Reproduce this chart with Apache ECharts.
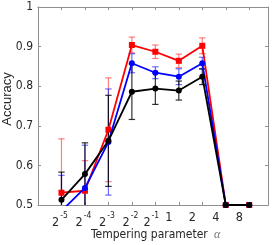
<!DOCTYPE html>
<html>
<head>
<meta charset="utf-8">
<script src="https://cdn.jsdelivr.net/npm/echarts@6/dist/echarts.min.js"></script>
<style>
html,body{margin:0;padding:0;background:#fff;}
#c{width:273px;height:245px;}
</style>
</head>
<body>
<div id="c"></div>
<script>
// tick labels for x positions 0..8 : base and exponent
const xBase = ['2','2','2','2','2','1','2','4','8'];
const xExp  = ['-5','-4','-3','-2','-1','','','',''];
const yTickLabels = ['0.5','0.6','0.7','0.8','0.9','1'];

// series means and error half-widths
const redMean   = [0.531, 0.536, 0.690, 0.904, 0.887, 0.864, 0.902, 0.5, 0.5];
const redErr    = [0.136, 0.076, 0.131, 0.020, 0.017, 0.017, 0.020, 0, 0];
const blueMean  = [0.485, 0.543, 0.659, 0.858, 0.834, 0.824, 0.858, 0.5, 0.5];
const blueErr   = [0.090, 0.108, 0.134, 0.024, 0.015, 0.020, 0.015, 0, 0];
const blackMean = [0.513, 0.578, 0.662, 0.786, 0.794, 0.789, 0.824, 0.5, 0.5];
const blackErr  = [0.070, 0.079, 0.115, 0.070, 0.040, 0.024, 0.020, 0, 0];

const Y_MIN = 0.5, Y_MAX = 1;
const NARROW = "'Liberation Sans Narrow','DejaVu Sans Condensed','Liberation Sans',sans-serif";

function lineData(m){ return m.map((v,i)=>[i,v]); }
function errData(m,e){ return m.map((v,i)=>[i, v-e[i], v+e[i]]).filter((d,i)=>e[i]>0); }

function errRender(color){
  return function(params, api){
    const x = api.value(0), lo = api.value(1), hi = api.value(2);
    const l = Math.max(lo, Y_MIN), h = Math.min(hi, Y_MAX);
    const pL = api.coord([x, l]), pH = api.coord([x, h]);
    const st = {stroke: color, lineWidth: 1.2};
    const ch = [{type:'line', shape:{x1:pL[0],y1:pL[1],x2:pH[0],y2:pH[1]}, style:st}];
    const hw = 3.2;
    if (hi <= Y_MAX) ch.push({type:'line', shape:{x1:pH[0]-hw,y1:pH[1],x2:pH[0]+hw,y2:pH[1]}, style:st});
    if (lo >= Y_MIN) ch.push({type:'line', shape:{x1:pL[0]-hw,y1:pL[1],x2:pL[0]+hw,y2:pL[1]}, style:st});
    return {type:'group', children: ch};
  };
}

const axisColor = '#8f8f8f';
const labelColor = '#262626';

const chart = echarts.init(document.getElementById('c'), null, {renderer:'canvas'});
chart.setOption({
  animation: false,
  grid: {left: 38, top: 7, right: 5, bottom: 40, containLabel: false},
  xAxis: [{
    type: 'value', min: -1, max: 8.8, interval: 1, position: 'bottom',
    axisLine: {onZero: false, lineStyle: {color: axisColor, width: 1}},
    axisTick: {inside: true, length: 3, lineStyle: {color: axisColor}},
    splitLine: {show: false},
    axisLabel: {
      margin: 6, color: labelColor, fontFamily: NARROW,
      formatter: function(v){
        const i = Math.round(v);
        if (Math.abs(v - i) > 1e-6 || i < 0 || i > 8) return '';
        if (xExp[i]) return '{b|' + xBase[i] + '}{' + (i === 4 ? 's4' : 's') + '|' + xExp[i] + '}';
        return '{p|' + xBase[i] + '}';
      },
      rich: {
        b: {fontSize: 12.5, lineHeight: 18, fontFamily: NARROW, color: labelColor, verticalAlign: 'bottom'},
        s: {fontSize: 8.5, lineHeight: 10, fontFamily: NARROW, color: labelColor, verticalAlign: 'top', padding: [0, 3, 0, 1]},
        s4: {fontSize: 8.5, lineHeight: 10, fontFamily: NARROW, color: labelColor, verticalAlign: 'top', padding: [0, 8, 0, 1]},
        p: {fontSize: 12.5, lineHeight: 12, fontFamily: NARROW, color: labelColor, verticalAlign: 'top', padding: [0, 20, 0, 0]}
      }
    }
  }, {
    type: 'value', min: -1, max: 8.8, interval: 1, position: 'top',
    axisLine: {onZero: false, lineStyle: {color: axisColor, width: 1}},
    axisTick: {inside: true, length: 3, lineStyle: {color: axisColor}},
    axisLabel: {show: false}, splitLine: {show: false}
  }],
  yAxis: [{
    type: 'value', min: Y_MIN, max: Y_MAX, interval: 0.1, position: 'left',
    axisLine: {show: true, onZero: false, lineStyle: {color: axisColor, width: 1}},
    axisTick: {show: true, inside: true, length: 3, lineStyle: {color: axisColor}},
    splitLine: {show: false},
    axisLabel: {
      margin: 5, color: labelColor, fontSize: 12, fontFamily: NARROW,
      formatter: function(v){ return yTickLabels[Math.round((v - Y_MIN) / 0.1)] || ''; }
    }
  }, {
    type: 'value', min: Y_MIN, max: Y_MAX, interval: 0.1, position: 'right',
    axisLine: {show: true, onZero: false, lineStyle: {color: axisColor, width: 1}},
    axisTick: {show: true, inside: true, length: 3, lineStyle: {color: axisColor}},
    axisLabel: {show: false}, splitLine: {show: false}
  }],
  graphic: [
    {type: 'text', left: 91, top: 229, style: {text: 'Tempering parameter', fontSize: 12, fontFamily: NARROW, fill: labelColor}},
    {type: 'text', left: 214, top: 229, style: {text: 'α', fontSize: 12, fontStyle: 'italic', fontFamily: "'Liberation Serif','DejaVu Serif',serif", fill: '#777'}},
    {type: 'text', x: 7, y: 99, rotation: Math.PI / 2,
     style: {text: 'Accuracy', fontSize: 13, fontFamily: "'Liberation Sans',Arial,sans-serif", fill: labelColor, align: 'center', verticalAlign: 'middle'}}
  ],
  series: [
    {type: 'custom', renderItem: errRender('rgba(255,40,40,0.6)'), data: errData(redMean, redErr), z: 1, xAxisIndex: 0, yAxisIndex: 0},
    {type: 'custom', renderItem: errRender('rgba(30,30,255,0.65)'), data: errData(blueMean, blueErr), z: 1, xAxisIndex: 0, yAxisIndex: 0},
    {type: 'custom', renderItem: errRender('rgba(0,0,0,0.8)'), data: errData(blackMean, blackErr), z: 1, xAxisIndex: 0, yAxisIndex: 0},
    {type: 'line', data: lineData(redMean), clip: true, z: 3, symbol: 'rect', symbolSize: 6,
     lineStyle: {color: '#ff0000', width: 1.8}, itemStyle: {color: '#ff0000'}},
    {type: 'line', data: lineData(blueMean), clip: true, z: 4, symbol: 'circle', symbolSize: 6,
     lineStyle: {color: '#0000ff', width: 1.8}, itemStyle: {color: '#0000ff'}},
    {type: 'line', data: lineData(blackMean), clip: true, z: 5, symbol: 'circle', symbolSize: 6,
     lineStyle: {color: '#000000', width: 1.8}, itemStyle: {color: '#000000'}}
  ]
});
</script>
</body>
</html>
